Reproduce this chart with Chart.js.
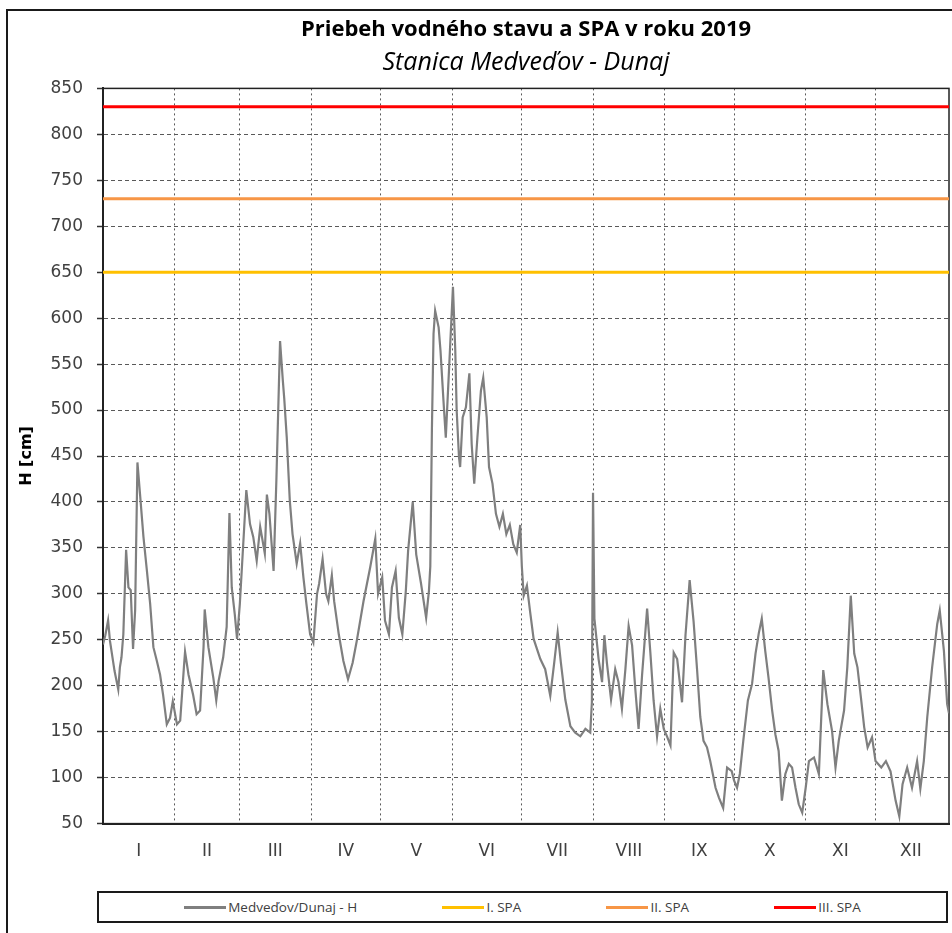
<!DOCTYPE html>
<html lang="sk">
<head>
<meta charset="utf-8">
<title>Priebeh vodného stavu a SPA v roku 2019</title>
<script src="https://cdn.jsdelivr.net/npm/chart.js@4.4.1/dist/chart.umd.min.js"></script>
<style>
    html, body { margin: 0; padding: 0; background: #fff; width: 952px; height: 933px; overflow: hidden; }
    #ramik { position: absolute; left: 6px; top: 9px; width: 1200px; height: 1000px; border: 2px solid #1a1a1a; }
    #obal { position: absolute; left: 8px; top: 11px; width: 944px; height: 869px; }
    #legenda {
        position: absolute; left: 97px; top: 891px; width: 847px; height: 28px;
        border: 2px solid #1a1a1a; display: flex; justify-content: space-evenly; align-items: center;
        font: 13.5px "Open Sans", sans-serif; color: #404040;
    }
    .polozka { display: flex; align-items: center; }
    .ciara { display: inline-block; width: 42px; height: 3px; margin-right: 2px; }
</style>
</head>
<body>
<div id="ramik"></div>
<div id="obal"><canvas id="graf" width="944" height="869"></canvas></div>
<div id="legenda"></div>

<script>
// dni od 1. januara 2019 a vodny stav H [cm] odcitany z grafu
var dni = [
    0, 1, 2.2, 3, 5, 6.6, 7.3, 8, 8.8, 10,
    11, 12, 13, 13.9, 14.9, 16, 17.5, 19, 20.4, 21.8,
    23.3, 24.7, 26, 27.6, 29, 30.2, 32, 33.4, 35, 35.5,
    37, 39, 40.5, 42, 43.5, 44, 45.6, 47.7, 49, 50,
    52, 53.5, 54.7, 55.7, 57, 58, 59.2, 60.6, 62, 63.6,
    65, 66.5, 68, 70, 70.9, 72, 73.8, 75, 76.6, 77.8,
    78.4, 79.5, 80.8, 82, 83.8, 85.3, 86.7, 88, 89.6, 91,
    92.6, 93.5, 95, 96.5, 97.5, 99, 100, 102, 104, 106,
    108, 109.8, 112.7, 115.6, 117.8, 119, 120.8, 122, 123.7, 125,
    126.6, 128, 129.5, 131, 132, 134, 135.5, 137.6, 139.8, 141,
    141.6, 142.3, 143, 143.7, 145.2, 146, 147.3, 148.3, 150, 151.4,
    152.4, 153, 154, 154.5, 155.6, 157, 158.5, 159.5, 160.6, 162,
    163.5, 164.5, 166, 167, 168.5, 170, 171.5, 173, 174.5, 176,
    177.5, 179, 180.5, 181.2, 182, 183.4, 184.8, 186.3, 189.2, 191.3,
    193.5, 195.2, 196.7, 198.1, 200, 202.2, 204.3, 206.5, 208.7, 210.8,
    211.5, 212, 212.6, 214.4, 215.9, 216.9, 218, 219.8, 221.6, 223,
    224.5, 226, 227.4, 228.9, 230.3, 231.7, 233.2, 235.4, 236.8, 238.2,
    239.7, 241.1, 242.6, 244, 245.5, 246.9, 248.4, 250.5, 252, 253.8,
    255.5, 257, 258.4, 259.8, 261.3, 262.7, 265, 266.5, 268.3, 270,
    272, 273, 274.3, 275.5, 277, 279, 280.8, 282.3, 283.7, 285,
    286.5, 287.9, 289.5, 290.9, 292.3, 293.7, 295.2, 296.7, 298.1, 299.6,
    301, 302.5, 304, 305.4, 307.6, 309.7, 311.6, 313.4, 315.4, 316.9,
    318.3, 320.6, 322, 323.5, 325, 326.4, 327.9, 329.3, 330.8, 332.7,
    334.2, 336.7, 338.7, 340.7, 342.9, 344.5, 345.9, 347.9, 350, 352.2,
    353.6, 355.1, 356.6, 358.7, 360.9, 362, 363.8, 365.2, 366
];
var vodnyStav = [
    245, 255, 271, 249, 216, 196, 220, 231, 256, 348,
    307, 304, 240, 282, 443, 409, 362, 325, 289, 242,
    227, 212, 190, 158, 165, 183, 158, 162, 220, 237,
    212, 190, 169, 173, 242, 283, 242, 209, 184, 205,
    231, 264, 388, 307, 278, 251, 289, 351, 413, 376,
    362, 336, 373, 344, 408, 387, 325, 423, 575, 532,
    513, 470, 402, 365, 333, 355, 318, 289, 256, 247,
    300, 311, 338, 300, 292, 320, 292, 256, 227, 207,
    225, 249, 292, 329, 360, 300, 318, 271, 256, 307,
    325, 274, 256, 303, 347, 400, 343, 311, 274, 303,
    330, 480, 583, 608, 590, 565, 510, 470, 560, 634,
    565, 500, 449, 438, 492, 503, 540, 463, 420, 471,
    521, 535, 492, 438, 420, 387, 373, 387, 365, 375,
    354, 345, 375, 330, 298, 309, 280, 251, 229, 218,
    189, 225, 258, 225, 185, 156, 149, 145, 153, 149,
    182, 410, 273, 229, 204, 255, 225, 185, 218, 204,
    175, 218, 265, 244, 196, 153, 211, 284, 236, 184,
    145, 175, 153, 145, 135, 236, 229, 182, 255, 315,
    270, 218, 166, 140, 133, 118, 89, 78, 67, 111,
    107, 97, 89, 104, 140, 184, 202, 235, 257, 273,
    238, 209, 173, 147, 129, 75, 104, 115, 111, 89,
    71, 62, 89, 118, 122, 104, 217, 180, 151, 111,
    140, 173, 220, 298, 235, 220, 187, 155, 133, 144,
    118, 111, 118, 107, 75, 58, 93, 111, 89, 118,
    88, 118, 166, 220, 267, 282, 238, 180, 170
];

var mesiace = ['I', 'II', 'III', 'IV', 'V', 'VI', 'VII', 'VIII', 'IX', 'X', 'XI', 'XII'];
var dlzkyMesiacov = [31, 28, 31, 30, 31, 30, 31, 31, 30, 31, 30, 31];

var spaNazvy = ['I. SPA', 'II. SPA', 'III. SPA'];
var spaHodnoty = [650, 730, 830];

var zaciatokRoka = 0;
var koniecRoka = 366;

document.addEventListener('DOMContentLoaded', function() {
    var hranice = [];
    var stredy = [];
    var spolu = 0;
    dlzkyMesiacov.forEach(function(d) {
        stredy.push(spolu + d / 2);
        spolu += d;
        hranice.push(spolu);
    });
    hranice.pop(); // posledna hranica je na okraji grafu

    function vodorovnaCiara(hodnota) {
        return [{ x: zaciatokRoka, y: hodnota }, { x: koniecRoka, y: hodnota }];
    }

    var ramcekGrafu = {
        id: 'ramcekGrafu',
        beforeDatasetsDraw: function(chart) {
            var a = chart.chartArea;
            var ctx = chart.ctx;
            ctx.save();
            ctx.strokeStyle = '#222';
            ctx.lineWidth = 1.5;
            ctx.strokeRect(a.left, a.top, a.right - a.left, a.bottom - a.top);
            ctx.restore();
        }
    };

    var config = {
        type: 'line',
        data: {
            datasets: [{
                label: 'Medveďov/Dunaj - H',
                data: dni.map(function(d, i) { return { x: d, y: vodnyStav[i] }; }),
                borderColor: '#7f7f7f',
                borderWidth: 2.2
            }, {
                label: spaNazvy[0],
                data: vodorovnaCiara(spaHodnoty[0]),
                borderColor: '#ffc000',
                borderWidth: 3
            }, {
                label: spaNazvy[1],
                data: vodorovnaCiara(spaHodnoty[1]),
                borderColor: '#f79646',
                borderWidth: 3
            }, {
                label: spaNazvy[2],
                data: vodorovnaCiara(spaHodnoty[2]),
                borderColor: '#ff0000',
                borderWidth: 3
            }]
        },
        options: {
            responsive: false,
            animation: false,
            parsing: false,
            elements: { point: { radius: 0 }, line: { tension: 0 } },
            layout: { padding: { left: 0, right: 3, top: 0, bottom: 0 } },
            plugins: {
                legend: { display: false },
                tooltip: { enabled: false },
                title: {
                    display: true,
                    text: 'Priebeh vodného stavu a SPA v roku 2019',
                    fullSize: false,
                    color: '#000',
                    font: { family: 'Open Sans', size: 22, weight: 'bold' },
                    padding: { top: 6, bottom: 4 }
                },
                subtitle: {
                    display: true,
                    text: 'Stanica Medveďov - Dunaj',
                    fullSize: false,
                    color: '#000',
                    font: { family: 'Open Sans', size: 25, style: 'italic' },
                    padding: { top: 0, bottom: 11 }
                }
            },
            scales: {
                x: {
                    type: 'linear',
                    position: 'bottom',
                    weight: 0,
                    min: zaciatokRoka,
                    max: koniecRoka,
                    afterBuildTicks: function(os) {
                        os.ticks = hranice.map(function(v) { return { value: v }; });
                    },
                    ticks: { display: false },
                    grid: { color: '#595959', lineWidth: 1, drawTicks: false, borderDash: [2, 3] },
                    border: { color: '#222', width: 2, dash: [2, 3] }
                },
                mesiac: {
                    type: 'linear',
                    position: 'bottom',
                    weight: 1,
                    min: zaciatokRoka,
                    max: koniecRoka,
                    afterBuildTicks: function(os) {
                        os.ticks = stredy.map(function(v) { return { value: v }; });
                    },
                    ticks: {
                        autoSkip: false,
                        maxRotation: 0,
                        padding: 18,
                        color: '#404040',
                        font: { family: 'DejaVu Sans', size: 17 },
                        callback: function(v, i) { return mesiace[i]; }
                    },
                    grid: { display: false, drawTicks: false },
                    border: { display: false }
                },
                y: {
                    min: 50,
                    max: 850,
                    afterFit: function(os) { os.width = 95; },
                    ticks: {
                        stepSize: 50,
                        padding: 14,
                        color: '#404040',
                        font: { family: 'DejaVu Sans', size: 17 }
                    },
                    grid: {
                        color: '#595959',
                        lineWidth: 1,
                        borderDash: [4, 3],
                        tickLength: 6,
                        tickColor: '#333',
                        tickWidth: 1.5,
                        tickBorderDash: []
                    },
                    border: { color: '#222', width: 2, dash: [4, 3] },
                    title: {
                        display: true,
                        text: 'H [cm]',
                        color: '#000',
                        font: { family: 'DejaVu Sans', size: 16, weight: 'bold' },
                        padding: { top: 9, bottom: 0 }
                    }
                }
            }
        },
        plugins: [ramcekGrafu]
    };

    var ctx = document.getElementById('graf').getContext('2d');
    var graf = new Chart(ctx, config);

    // legenda v ramceku pod grafom
    var legenda = document.getElementById('legenda');
    graf.data.datasets.forEach(function(ds) {
        var polozka = document.createElement('div');
        polozka.className = 'polozka';
        var ciara = document.createElement('span');
        ciara.className = 'ciara';
        ciara.style.background = ds.borderColor;
        var text = document.createElement('span');
        text.textContent = ds.label;
        polozka.appendChild(ciara);
        polozka.appendChild(text);
        legenda.appendChild(polozka);
    });
});
</script>
</body>
</html>
